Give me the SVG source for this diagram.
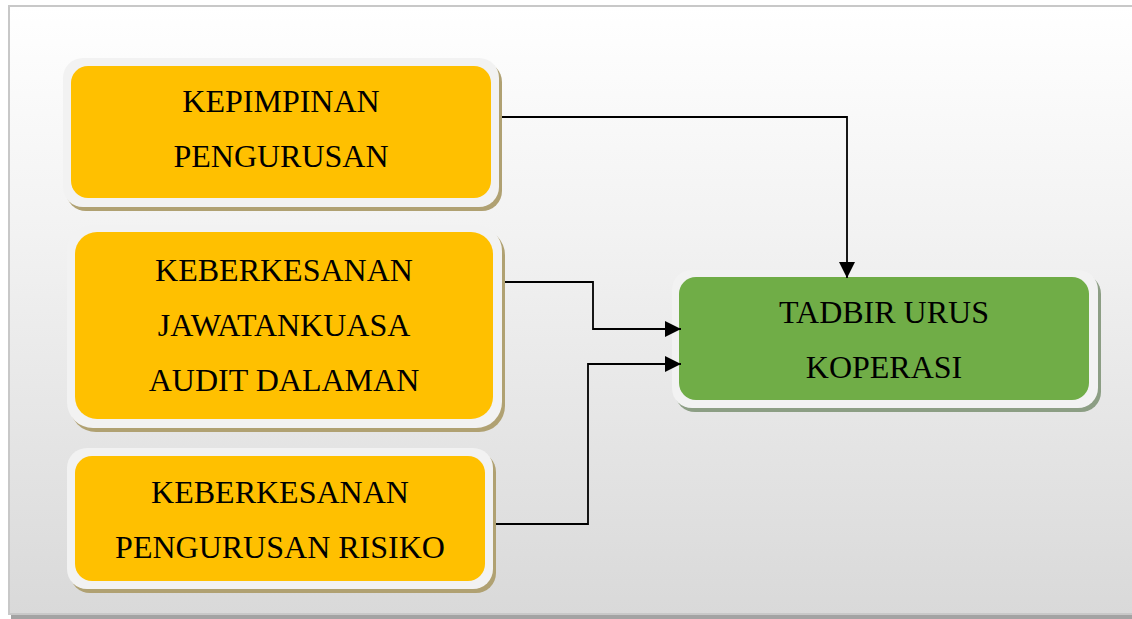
<svg xmlns="http://www.w3.org/2000/svg" width="1132" height="619" viewBox="0 0 1132 619">
  <defs>
    <linearGradient id="bg" x1="0" y1="0" x2="0" y2="1">
      <stop offset="0" stop-color="#ffffff"/>
      <stop offset="0.35" stop-color="#f3f3f3"/>
      <stop offset="1" stop-color="#d9d9d9"/>
    </linearGradient>
    <marker id="arr" markerWidth="16" markerHeight="16" refX="16" refY="8" orient="auto" markerUnits="userSpaceOnUse">
      <path d="M0,0 L16,8 L0,16 Z" fill="#000"/>
    </marker>
  </defs>
  <style>
    .frame { fill: url(#bg); stroke: #c8c8c8; stroke-width: 2; }
    .rim { fill: #f2f2f2; }
    .shY { fill: #b0a172; }
    .shG { fill: #8c9e84; }
    .yel { fill: #ffc000; }
    .grn { fill: #70ad47; }
    .t { font-family: "Liberation Serif", "Times New Roman", serif; font-size: 32px; fill: #000; text-anchor: middle; }
    .conn { fill: none; stroke: #000; stroke-width: 1.8; }
  </style>

  <rect x="11" y="614" width="1125" height="5" fill="#a3a3a3"/>
  <rect class="frame" x="9" y="6" width="1130" height="608"/>

  <g id="node-kepimpinan">
    <rect class="shY" x="66" y="62" width="436" height="149" rx="20"/>
    <rect class="rim" x="63" y="58" width="436" height="149" rx="20"/>
    <rect class="yel" x="71" y="66" width="420" height="132" rx="17"/>
    <text class="t" x="281" y="112">KEPIMPINAN</text>
    <text class="t" x="281" y="167">PENGURUSAN</text>
  </g>

  <g id="node-audit">
    <rect class="shY" x="70" y="229" width="435" height="203" rx="26"/>
    <rect class="rim" x="67" y="225" width="435" height="203" rx="26"/>
    <rect class="yel" x="75" y="232" width="418" height="187" rx="22"/>
    <text class="t" x="284" y="281">KEBERKESANAN</text>
    <text class="t" x="284" y="336">JAWATANKUASA</text>
    <text class="t" x="284" y="391">AUDIT DALAMAN</text>
  </g>

  <g id="node-risiko">
    <rect class="shY" x="70" y="452" width="426" height="141" rx="20"/>
    <rect class="rim" x="67" y="448" width="426" height="141" rx="20"/>
    <rect class="yel" x="75" y="456" width="410" height="125" rx="17"/>
    <text class="t" x="280" y="503">KEBERKESANAN</text>
    <text class="t" x="280" y="558">PENGURUSAN RISIKO</text>
  </g>

  <g id="node-tadbir">
    <rect class="shG" x="675" y="274" width="426" height="138" rx="20"/>
    <rect class="rim" x="672" y="270" width="426" height="138" rx="20"/>
    <rect class="grn" x="679" y="277" width="410" height="123" rx="17"/>
    <text class="t" x="884" y="323">TADBIR URUS</text>
    <text class="t" x="884" y="378">KOPERASI</text>
  </g>

  <g id="connectors">
    <polyline class="conn" points="502,117 847,117 847,278" marker-end="url(#arr)"/>
    <polyline class="conn" points="505,282 593,282 593,329 681,329" marker-end="url(#arr)"/>
    <polyline class="conn" points="496,524 588,524 588,364 681,364" marker-end="url(#arr)"/>
  </g>
</svg>
